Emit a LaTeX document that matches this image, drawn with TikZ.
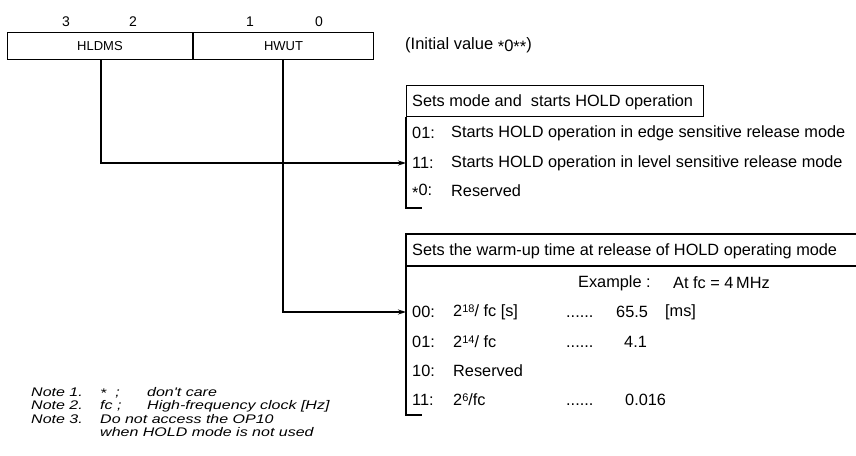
\documentclass[tikz,border=0pt]{standalone}
\usepackage{fontspec}
\setmainfont{Liberation Sans}
\newfontfamily\notefont[FakeStretch=1.28]{Liberation Sans}
\usetikzlibrary{arrows.meta}
\newcommand{\myast}{\raisebox{-3pt}{*}}
\newcommand{\noteast}{\raisebox{-1pt}{*}}
\newcommand{\sps}[1]{\raisebox{4pt}{\fontsize{11}{12}\selectfont #1}}
\begin{document}
\begin{tikzpicture}[x=1pt,y=-1pt,
  txt/.style={anchor=west,inner sep=0pt,font=\fontsize{16.3}{18}\selectfont},
  itx/.style={anchor=base west,inner sep=0pt,font=\fontsize{12.5}{14}\notefont\itshape},
  bitn/.style={anchor=center,inner sep=0pt,font=\fontsize{14}{16}\selectfont},
  field/.style={draw,line width=1pt,minimum height=27pt,inner sep=0pt,font=\fontsize{13}{15}\selectfont},
  ln/.style={line width=1.1pt},
  arr/.style={ln,-{Stealth[length=8pt,width=5pt]}}]
\useasboundingbox (0,0) rectangle (856,455);
% bit numbers
\node[bitn] (b3) at (66,22) {3};
\node[bitn] (b2) at (133,22) {2};
\node[bitn] (b1) at (250,22) {1};
\node[bitn] (b0) at (319,22) {0};
% register
\node[field,minimum width=185pt,anchor=north west] (hldms) at (7,32) {HLDMS};
\node[field,minimum width=180pt,anchor=north west] (hwut) at (hldms.north east) {HWUT};
\node[txt,font=\fontsize{16.5}{18}\selectfont] (init) at (405,45) {(Initial value \myast\raisebox{-2pt}{0}\myast\myast)};
% box 1
\node[draw,ln,anchor=north west,minimum width=297pt,minimum height=31pt,inner sep=0pt] (hdr1) at (406,85) {};
\node[txt] (h1t) at (412,102) {Sets mode and\ \ starts HOLD operation};
\node[txt] (r1a) at (412,133) {01:};
\node[txt] (r1at) at (451,133) {Starts HOLD operation in edge sensitive release mode};
\node[txt] (r1b) at (412,163) {11:};
\node[txt] (r1bt) at (451,163) {Starts HOLD operation in level sensitive release mode};
\node[txt] (r1c) at (412,191) {\myast0:};
\node[txt] (r1ct) at (451,191) {Reserved};
\coordinate (e1) at (422,208);
\draw[ln] (hdr1.south west) |- (e1);
% box 2
\coordinate (h2tl) at (406,234);
\coordinate (h2br) at (856,266);
\draw[ln] (h2br |- h2tl) -- (h2tl) -- (h2tl |- h2br) -- (h2br);
\node[txt] (h2t) at (412,251) {Sets the warm-up time at release of HOLD operating mode};
\node[txt] (ex) at (578,283) {Example :};
\node[txt] (exv) at (673,283) {At fc = 4\,MHz};
\node[txt] (r2a) at (412,312) {00:};
\node[txt] (r2af) at (453,312) {2\sps{18}/ fc [s]};
\node[txt,anchor=base west] (r2ad) at (566,317.5) {......};
\node[txt] (r2av) at (616,312) {65.5};
\node[txt] (r2au) at (665,312) {[ms]};
\node[txt] (r2b) at (412,342) {01:};
\node[txt] (r2bf) at (453,342) {2\sps{14}/ fc};
\node[txt,anchor=base west] (r2bd) at (566,347.5) {......};
\node[txt] (r2bv) at (624,342) {4.1};
\node[txt] (r2c) at (412,371) {10:};
\node[txt] (r2ct) at (453,371) {Reserved};
\node[txt] (r2d) at (412,400) {11:};
\node[txt] (r2df) at (453,400) {2\sps{6}/fc};
\node[txt,anchor=base west] (r2dd) at (566,405.5) {......};
\node[txt] (r2dv) at (625,400) {0.016};
\coordinate (e2) at (422,415);
\draw[ln] (h2tl |- h2br) |- (e2);
% connectors
\draw[arr] (hldms.south -| 101,0) |- (hdr1.west |- r1b.west);
\draw[arr] (hwut.south -| 283,0) |- (h2tl |- r2a.west);
% notes
\node[itx] (n1) at (31,396) {Note 1.};
\node[itx] (n1a) at (100,396) {\noteast\ \ ;};
\node[itx] (n1b) at (147,396) {don't care};
\node[itx] (n2) at (31,409.5) {Note 2.};
\node[itx] (n2a) at (100,409.5) {fc ;};
\node[itx] (n2b) at (147,409.5) {High-frequency clock [Hz]};
\node[itx] (n3) at (31,423) {Note 3.};
\node[itx] (n3a) at (100,423) {Do not access the OP10};
\node[itx] (n3b) at (100,436.5) {when HOLD mode is not used};
\end{tikzpicture}
\end{document}
